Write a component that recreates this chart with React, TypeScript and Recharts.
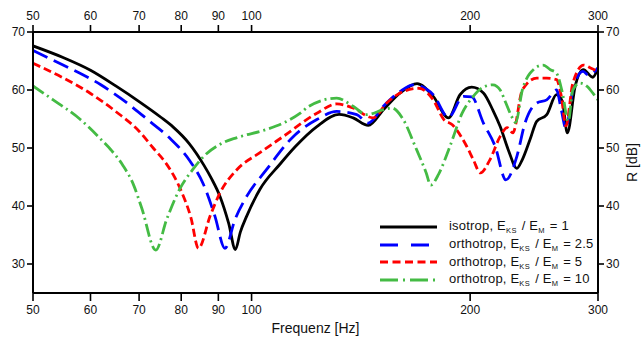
import { LineChart, Line, XAxis, YAxis } from 'recharts'

const freqTicks = [50, 60, 70, 80, 90, 100, 200, 300]
const dbTicks = [30, 40, 50, 60, 70]

// isotrop, E_KS / E_M = 1
const isoFreq = [50, 55, 60, 65, 70, 75, 78, 82, 86, 88, 90.5, 93, 95, 96.5, 98.5, 102.7, 109.4, 115, 123, 132, 138, 144.8, 151.9, 160.2, 169, 177.9, 186.7, 193.7, 201, 208.6, 215, 220, 226, 231.9, 236, 241.9, 247, 255, 263, 268, 272.2, 279, 286.4, 295, 300]
const isoDb = [67.6, 65.6, 63.4, 60.7, 58.0, 55.3, 53.6, 50.8, 47.0, 44.8, 41.6, 37.0, 32.5, 35.5, 38.3, 42.9, 47.2, 50.3, 53.7, 55.8, 55.2, 53.9, 56.6, 59.5, 61.1, 58.9, 55.2, 59.2, 60.5, 59.5, 56.5, 53.7, 49.5, 46.5, 48.0, 51.5, 54.6, 55.75, 59.2, 58.0, 52.6, 60.6, 63.5, 62.2, 63.8]

// orthotrop, E_KS / E_M = 2.5
const ortho25Freq = [50, 55, 62, 66, 72.4, 77, 82.2, 85.8, 89, 91.9, 94.9, 98.5, 104.9, 114.2, 123, 131, 139.6, 144.8, 151.9, 160.2, 167, 177.9, 186.7, 195.7, 201, 208.6, 216.5, 224, 232, 238, 247, 255, 263, 267, 271, 277, 286, 291, 300]
const ortho25Db = [66.8, 64.3, 60.9, 58.6, 54.6, 51.8, 47.8, 43.8, 38.3, 32.7, 37.7, 41.7, 46.3, 52.0, 54.9, 56.3, 55.75, 54.3, 57.2, 59.75, 60.9, 59.2, 55.3, 58.9, 58.8, 54.3, 50.3, 44.5, 48.6, 54.3, 57.75, 58.3, 60.0, 56.6, 53.4, 60.0, 63.2, 62.6, 63.8]

// orthotrop, E_KS / E_M = 5
const ortho5Freq = [50, 55, 60, 65, 70, 73.2, 76, 78, 80, 82.5, 84.5, 87.7, 90.5, 95.5, 102.7, 110.6, 123, 131, 138, 147, 153.5, 160.2, 170, 177.9, 184, 189, 197.8, 202, 206.6, 213, 220, 225, 229, 236, 247, 255, 263, 267, 271, 277, 286.7, 293, 300]
const ortho5Db = [64.6, 62.1, 59.4, 56.3, 52.9, 50.0, 47.6, 45.4, 42.6, 38.0, 32.7, 38.3, 42.3, 46.3, 49.2, 52.0, 56.0, 57.6, 56.9, 55.2, 57.75, 59.5, 60.3, 58.3, 54.9, 54.0, 50.3, 48.0, 45.7, 48.0, 52.0, 53.5, 52.6, 60.0, 62.05, 62.05, 61.8, 59.0, 53.8, 61.2, 64.3, 63.8, 63.2]

// orthotrop, E_KS / E_M = 10
const ortho10Freq = [50, 53.3, 58, 61.9, 64, 66.5, 68.8, 70.6, 73.8, 76.4, 79.6, 83, 86, 91.3, 95.5, 104.9, 110.6, 116.7, 120, 131, 138, 144, 151.9, 156, 161.8, 168, 174, 176.5, 181, 187.6, 195, 202, 208.6, 215, 220, 224, 228, 231, 236, 241.9, 252, 258, 263, 268, 273, 277, 283, 290, 295, 300]
const ortho10Db = [60.7, 58.3, 55.0, 51.6, 49.7, 47.0, 43.6, 39.6, 32.4, 37.7, 42.9, 46.3, 48.6, 50.9, 51.8, 53.2, 54.3, 56.0, 57.2, 58.6, 57.2, 55.75, 56.6, 56.9, 54.9, 50.3, 45.7, 43.6, 45.5, 50.3, 56.0, 58.9, 60.5, 60.9, 60.0, 57.75, 55.5, 54.4, 60.0, 62.9, 64.3, 63.5, 62.9, 59.5, 54.6, 60.0, 61.2, 60.6, 59.5, 58.3]

const toPoints = (f: number[], v: number[]) => f.map((x, i) => ({ f: x, v: v[i] }))

const series = [
  { name: 'isotrop', ratio: '1', data: toPoints(isoFreq, isoDb), color: '#000000', dash: undefined, legendDash: undefined },
  { name: 'orthotrop', ratio: '2.5', data: toPoints(ortho25Freq, ortho25Db), color: '#0000ff', dash: '16 7', legendDash: '18 13' },
  { name: 'orthotrop', ratio: '5', data: toPoints(ortho5Freq, ortho5Db), color: '#ff0000', dash: '8 4', legendDash: '8 4.5' },
  { name: 'orthotrop', ratio: '10', data: toPoints(ortho10Freq, ortho10Db), color: '#44bb44', dash: '13 4 2 4', legendDash: '18 5 2 5' },
]

const tickStyle = { fontSize: 12, fill: '#111' }
const axisLine = { stroke: '#000', strokeWidth: 2 }
const tickLine = { stroke: '#000', strokeWidth: 1.6 }

const sub = { fontSize: 7.5, position: 'relative' as const, top: 3, letterSpacing: 0.5, marginRight: 1 }

function LegendBox() {
  return (
    <div style={{ position: 'absolute', left: 378, top: 218, fontSize: 13, color: '#111', letterSpacing: 0.2 }}>
      {series.map((s, i) => (
        <div key={i} style={{ display: 'flex', alignItems: 'center', whiteSpace: 'nowrap', height: 17.7 }}>
          <svg width={62} height={10} style={{ marginRight: 9, flex: 'none' }}>
            <line x1={2} y1={5} x2={59} y2={5} stroke={s.color} strokeWidth={3} strokeDasharray={s.legendDash} />
          </svg>
          <span style={{ lineHeight: '17px' }}>
            {s.name}, E<span style={sub}>KS</span> / E<span style={sub}>M</span> = {s.ratio}
          </span>
        </div>
      ))}
    </div>
  )
}

const yLabel = ({ viewBox }: any) => {
  const x = viewBox.x + viewBox.width - 9
  const y = viewBox.y + viewBox.height / 2
  return (
    <text x={x} y={y} transform={`rotate(-90 ${x} ${y})`} textAnchor="middle" dominantBaseline="central" fontSize={14} fill="#111">
      R [dB]
    </text>
  )
}

export default function App() {
  return (
    <div style={{ position: 'absolute', left: 0, top: 0, width: 641, height: 338, background: '#fff', fontFamily: '"Liberation Sans", Arial, sans-serif' }}>
      <LineChart width={641} height={338} margin={{ top: 0, right: 0, bottom: 0, left: 0 }}>
        <XAxis
          xAxisId="bottom"
          dataKey="f"
          type="number"
          scale="log"
          domain={[50, 300]}
          allowDataOverflow
          ticks={freqTicks}
          interval={0}
          height={45}
          tick={tickStyle}
          tickSize={8}
          tickMargin={4}
          axisLine={axisLine}
          tickLine={tickLine}
          label={{ value: 'Frequenz [Hz]', position: 'insideBottom', offset: 5, fontSize: 14, fill: '#111' }}
        />
        <XAxis
          xAxisId="top"
          orientation="top"
          dataKey="f"
          type="number"
          scale="log"
          domain={[50, 300]}
          allowDataOverflow
          ticks={freqTicks}
          interval={0}
          height={32}
          tick={tickStyle}
          tickSize={7}
          tickMargin={5}
          axisLine={axisLine}
          tickLine={tickLine}
        />
        <YAxis
          yAxisId="left"
          type="number"
          domain={[25, 70]}
          allowDataOverflow
          ticks={dbTicks}
          interval={0}
          width={33}
          tick={tickStyle}
          tickSize={6}
          tickMargin={2}
          axisLine={axisLine}
          tickLine={tickLine}
        />
        <YAxis
          yAxisId="right"
          orientation="right"
          type="number"
          domain={[25, 70]}
          allowDataOverflow
          ticks={dbTicks}
          interval={0}
          width={43}
          tick={tickStyle}
          tickSize={6}
          tickMargin={2}
          axisLine={axisLine}
          tickLine={tickLine}
          label={yLabel}
        />
        {series.map((s, i) => (
          <Line
            key={i}
            xAxisId="bottom"
            yAxisId="left"
            data={s.data}
            dataKey="v"
            type="monotone"
            stroke={s.color}
            strokeWidth={2.8}
            strokeDasharray={s.dash}
            dot={false}
            isAnimationActive={false}
          />
        ))}
      </LineChart>
      <LegendBox />
    </div>
  )
}
